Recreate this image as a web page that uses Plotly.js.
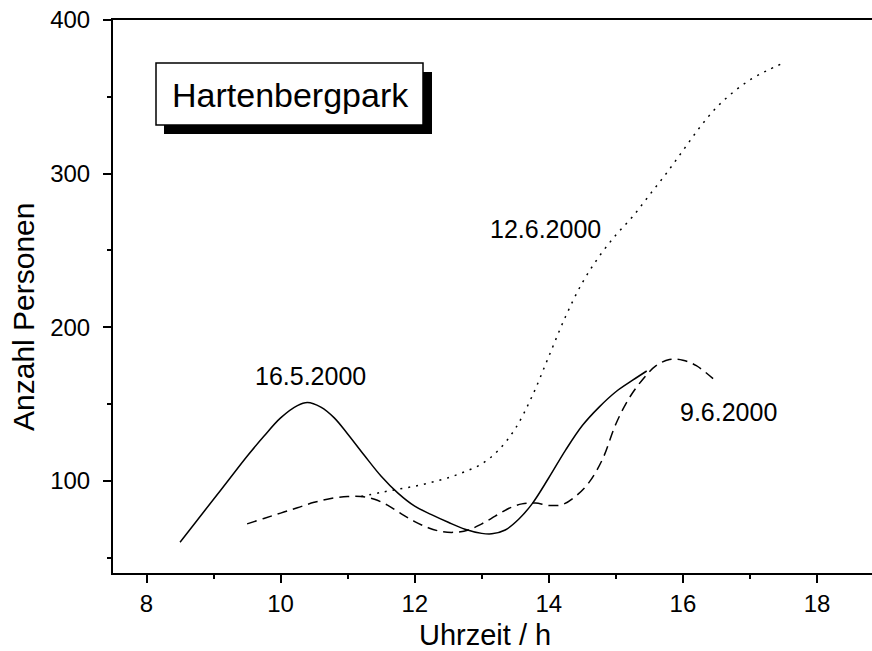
<!DOCTYPE html>
<html>
<head>
<meta charset="utf-8">
<script src="https://cdn.plot.ly/plotly-3.0.1.min.js"></script>
<style>html,body{margin:0;padding:0;background:#fff;}#chart{width:872px;height:651px;}</style>
</head>
<body>
<div id="chart"></div>
<script>
// 16.5.2000 (solid)
const time_16_5 = [8.5, 8.75, 9.0, 9.25, 9.5, 9.75, 10.0, 10.25, 10.4, 10.6, 10.8, 11.0, 11.25, 11.5, 11.75, 12.0, 12.25, 12.5, 12.75, 13.0, 13.15, 13.35, 13.55, 13.75, 14.0, 14.25, 14.5, 14.75, 15.0, 15.25, 15.46];
const pers_16_5 = [60, 74, 88, 102, 116, 129, 141, 149, 151, 148, 141, 130.5, 116.5, 103, 92, 83.5, 78, 73, 68.5, 65.8, 65.5, 68, 75, 85, 102, 120, 136, 148, 158, 165.5, 171.5];

// 9.6.2000 (dashed)
const time_9_6 = [9.5, 9.75, 10.0, 10.25, 10.5, 10.75, 11.0, 11.2, 11.4, 11.6, 11.8, 12.0, 12.2, 12.4, 12.6, 12.8, 13.0, 13.2, 13.4, 13.6, 13.8, 14.0, 14.2, 14.4, 14.6, 14.8, 15.0, 15.2, 15.4, 15.6, 15.8, 16.0, 16.2, 16.45];
const pers_9_6 = [72, 75.5, 79, 82.5, 86, 88.5, 89.8, 89.8, 88, 84, 78.5, 73.5, 69.5, 67, 66.5, 68, 72, 77, 82, 85, 85.5, 84, 84.5, 90, 99, 114, 137, 154, 166, 175, 179, 178.5, 175, 166.5];

// 12.6.2000 (dotted)
const time_12_6 = [11.2, 11.5, 11.75, 12.0, 12.25, 12.5, 12.75, 13.0, 13.25, 13.5, 13.75, 14.0, 14.25, 14.5, 14.75, 15.0, 15.25, 15.5, 15.75, 16.0, 16.25, 16.5, 16.75, 17.0, 17.25, 17.5];
const pers_12_6 = [89.8, 92.5, 94.5, 96.5, 99, 102, 106, 111, 120, 134, 155, 181, 207, 229, 246, 260, 272, 286, 300, 315, 330, 343, 353, 361, 367, 372];

const xTitle = 'Uhrzeit / h';
const yTitle = 'Anzahl Personen';
const boxTitle = 'Hartenbergpark';
const seriesLabels = ['16.5.2000', '12.6.2000', '9.6.2000'];

const FONT = 'Arial, "Liberation Sans", sans-serif';
const lineStyle = (dash) => ({color: '#000', width: 1.5, dash: dash, shape: 'spline', smoothing: 1});

const traces = [
  {x: time_16_5, y: pers_16_5, mode: 'lines', line: lineStyle('solid'), hoverinfo: 'skip'},
  {x: time_9_6, y: pers_9_6, mode: 'lines', line: lineStyle('10px,6px'), hoverinfo: 'skip'},
  {x: time_12_6, y: pers_12_6, mode: 'lines', line: lineStyle('2px,6px'), hoverinfo: 'skip'}
];

// pixel -> paper helpers for decoration placement
const PL = 113, PW = 759, PB = 573, PH = 553;
const px = (v) => (v - PL) / PW;
const py = (v) => (PB - v) / PH;

const layout = {
  width: 872, height: 651,
  margin: {l: 113, r: 0, t: 20, b: 78, pad: 0},
  paper_bgcolor: '#fff', plot_bgcolor: '#fff',
  showlegend: false,
  font: {family: FONT, color: '#000'},
  xaxis: {
    range: [7.5, 18.82], tick0: 0, dtick: 2,
    ticks: 'outside', ticklen: 8, tickwidth: 2, tickcolor: '#000',
    minor: {dtick: 1, ticks: 'outside', ticklen: 4, tickwidth: 2, tickcolor: '#000'},
    showline: true, linewidth: 2, linecolor: '#000', mirror: true,
    showgrid: false, zeroline: false,
    tickfont: {family: FONT, size: 24, color: '#000'},
    ticklabelstandoff: 0
  },
  yaxis: {
    range: [40, 400], tick0: 0, dtick: 100,
    ticks: 'outside', ticklen: 8, tickwidth: 2, tickcolor: '#000',
    minor: {dtick: 50, ticks: 'outside', ticklen: 4, tickwidth: 2, tickcolor: '#000'},
    showline: true, linewidth: 2, linecolor: '#000', mirror: false,
    showgrid: false, zeroline: false,
    tickfont: {family: FONT, size: 24, color: '#000'},
    ticklabelstandoff: 8
  },
  shapes: [
    {type: 'rect', xref: 'paper', yref: 'paper', layer: 'above',
     x0: px(164), x1: px(432), y0: py(134), y1: py(72),
     fillcolor: '#000', line: {width: 0}},
    {type: 'rect', xref: 'paper', yref: 'paper', layer: 'above',
     x0: px(156), x1: px(423), y0: py(125), y1: py(63),
     fillcolor: '#fff', line: {color: '#000', width: 1.5}}
  ],
  annotations: [
    {xref: 'paper', yref: 'paper', x: px(290), y: py(95), text: boxTitle, showarrow: false,
     font: {family: FONT, size: 34, color: '#000'}, xanchor: 'center', yanchor: 'middle'},
    {xref: 'paper', yref: 'paper', x: px(485), y: py(635), text: xTitle, showarrow: false,
     font: {family: FONT, size: 29, color: '#000'}, xanchor: 'center', yanchor: 'middle'},
    {xref: 'paper', yref: 'paper', x: px(23), y: py(317), text: yTitle, showarrow: false, textangle: -90,
     font: {family: FONT, size: 30, color: '#000'}, xanchor: 'center', yanchor: 'middle'},
    {x: 10.44, y: 168, text: seriesLabels[0], showarrow: false, font: {family: FONT, size: 25, color: '#000'}, xanchor: 'center', yanchor: 'middle'},
    {x: 13.95, y: 264, text: seriesLabels[1], showarrow: false, font: {family: FONT, size: 25, color: '#000'}, xanchor: 'center', yanchor: 'middle'},
    {x: 16.68, y: 145, text: seriesLabels[2], showarrow: false, font: {family: FONT, size: 25, color: '#000'}, xanchor: 'center', yanchor: 'middle'}
  ]
};

Plotly.newPlot('chart', traces, layout, {displayModeBar: false, staticPlot: true});
</script>
</body>
</html>
